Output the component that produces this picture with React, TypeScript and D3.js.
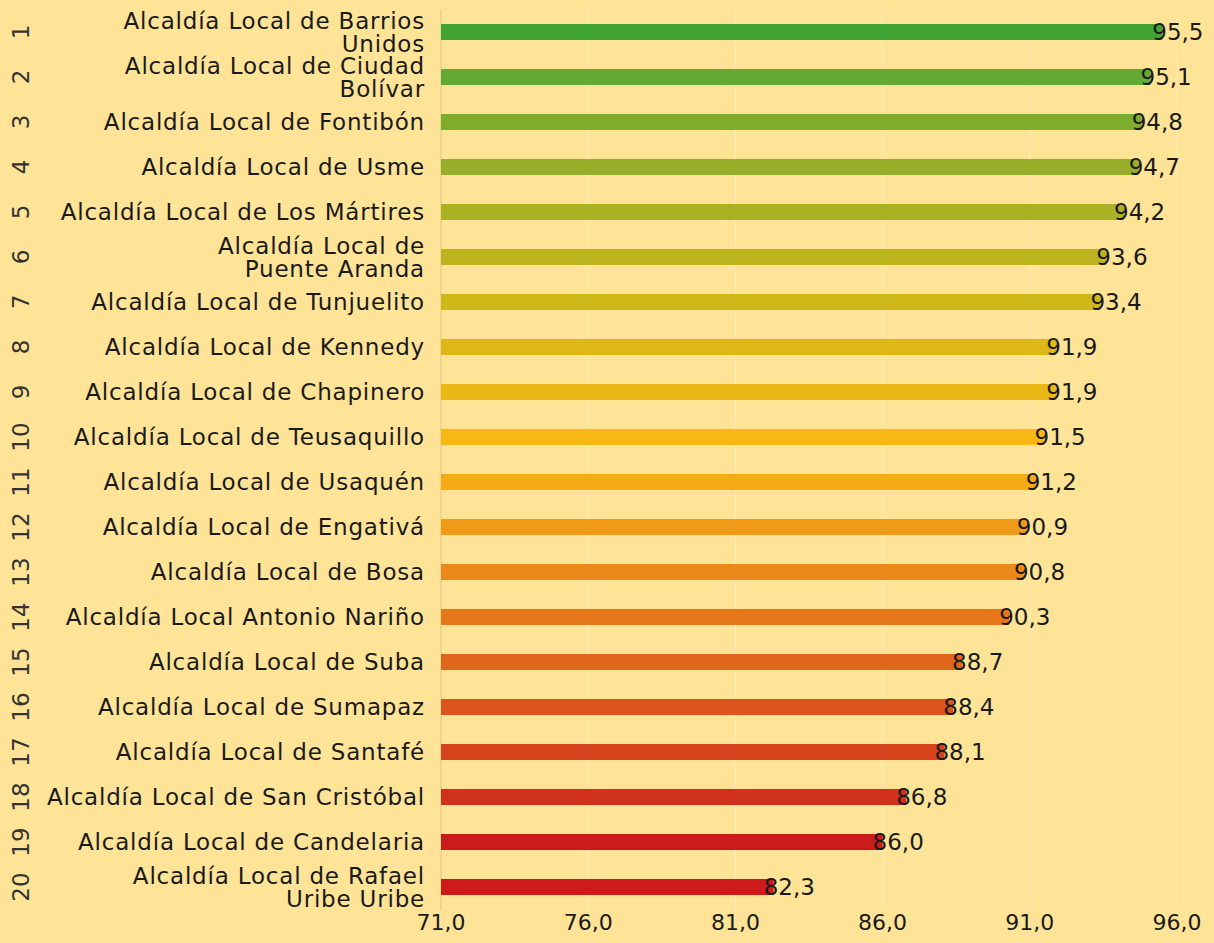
import { scaleLinear, scaleBand, range } from "d3";

const ranks = range(1, 21).map(String);

const names = [
  ["Alcaldía Local de Barrios", "Unidos"],
  ["Alcaldía Local de Ciudad", "Bolívar"],
  ["Alcaldía Local de Fontibón"],
  ["Alcaldía Local de Usme"],
  ["Alcaldía Local de Los Mártires"],
  ["Alcaldía Local de", "Puente Aranda"],
  ["Alcaldía Local de Tunjuelito"],
  ["Alcaldía Local de Kennedy"],
  ["Alcaldía Local de Chapinero"],
  ["Alcaldía Local de Teusaquillo"],
  ["Alcaldía Local de Usaquén"],
  ["Alcaldía Local de Engativá"],
  ["Alcaldía Local de Bosa"],
  ["Alcaldía Local Antonio Nariño"],
  ["Alcaldía Local de Suba"],
  ["Alcaldía Local de Sumapaz"],
  ["Alcaldía Local de Santafé"],
  ["Alcaldía Local de San Cristóbal"],
  ["Alcaldía Local de Candelaria"],
  ["Alcaldía Local de Rafael", "Uribe Uribe"],
];

const values = [
  95.5, 95.1, 94.8, 94.7, 94.2, 93.6, 93.4, 91.9, 91.9, 91.5, 91.2, 90.9, 90.8,
  90.3, 88.7, 88.4, 88.1, 86.8, 86.0, 82.3,
];

const barColors = [
  "#40A535", "#63A934", "#7EAD2E", "#96AE2A", "#AAB223", "#BDB51F", "#CEB818",
  "#DDB816", "#EBB715", "#F8B814", "#F5AA16", "#F09A18", "#EA8919", "#E5781A",
  "#E0661C", "#DA541E", "#D5441C", "#D0311C", "#CC1B1B", "#CD1A1B",
];

const xTicks = [71, 76, 81, 86, 91, 96];

const width = 1214;
const height = 943;
const font = "'DejaVu Sans', sans-serif";
const fmt = (v: number) => v.toFixed(1).replace(".", ",");

const App = () => {
  const xScale = scaleLinear().domain([71, 96]).range([441, 1177]);
  const yScale = scaleBand<string>()
    .domain(ranks)
    .range([9.5, 909.5])
    .paddingInner(0.644)
    .paddingOuter(0.322);
  const bh = yScale.bandwidth();

  return (
    <svg
      width={width}
      height={height}
      style={{ position: "absolute", left: 0, top: 0, background: "#FFE397" }}
      fontFamily={font}
    >
      <rect width={width} height={height} fill="#FFE397" />
      {xTicks.map((t) => (
        <line
          key={t}
          x1={xScale(t)}
          x2={xScale(t)}
          y1={10}
          y2={910}
          stroke={t === 71 ? "#E3CC88" : "#FFEBB4"}
          strokeWidth={1.2}
        />
      ))}
      {ranks.map((r, i) => {
        const cy = yScale(r)! + bh / 2;
        const lines = names[i];
        return (
          <g key={r}>
            <rect
              x={xScale(71)}
              y={yScale(r)}
              width={xScale(values[i]) - xScale(71)}
              height={bh}
              fill={barColors[i]}
            />
            <text
              x={xScale(values[i]) - 10}
              y={cy}
              dy="0.35em"
              fontSize={23}
              fill="#1a1a1a"
            >
              {fmt(values[i])}
            </text>
            <text
              textAnchor="end"
              fontSize={23}
              letterSpacing={0.8}
              fill="#1a1a1a"
              x={425}
            >
              {lines.map((l, j) => (
                <tspan
                  key={j}
                  x={425}
                  y={cy + (j - (lines.length - 1) / 2) * 23}
                  dy="0.35em"
                >
                  {l}
                </tspan>
              ))}
            </text>
            <text
              transform={`translate(21,${cy}) rotate(-90)`}
              textAnchor="middle"
              dy="0.35em"
              fontSize={23}
              fill="#333"
            >
              {r}
            </text>
          </g>
        );
      })}
      {xTicks.map((t) => (
        <text
          key={t}
          x={xScale(t)}
          y={922}
          dy="0.35em"
          textAnchor="middle"
          fontSize={22}
          fill="#1a1a1a"
        >
          {fmt(t)}
        </text>
      ))}
    </svg>
  );
};

export default App;
